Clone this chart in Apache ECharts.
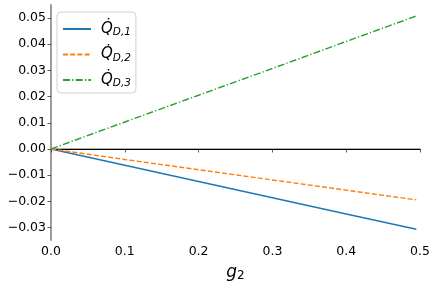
<!DOCTYPE html>
<html>
<head>
<meta charset="utf-8">
<script src="https://cdn.jsdelivr.net/npm/echarts@6/dist/echarts.min.js"></script>
<style>html,body{margin:0;padding:0;background:#fff}#c{width:436px;height:287px}</style>
</head>
<body>
<div id="c"></div>
<script>
const xValues = [0, 0.1, 0.2, 0.3, 0.4, 0.495];
const qD1 = [0, -0.0062, -0.0124, -0.0186, -0.0248, -0.0306];
const qD2 = [0, -0.0040, -0.0079, -0.0118, -0.0157, -0.0194];
const qD3 = [0, 0.0103, 0.0205, 0.0307, 0.0410, 0.0507];
const seriesSubs = ['D,1', 'D,2', 'D,3'];
const xTicks = [0, 0.1, 0.2, 0.3, 0.4, 0.5];
const xTickLabels = ['0.0', '0.1', '0.2', '0.3', '0.4', '0.5'];
const yTicks = [-0.03, -0.02, -0.01, 0, 0.01, 0.02, 0.03, 0.04, 0.05];
const yTickLabels = ['\u22120.03', '\u22120.02', '\u22120.01', '0.00', '0.01', '0.02', '0.03', '0.04', '0.05'];
const xAxisTitle = 'g';
const xAxisSub = '2';

const FONT = 'DejaVu Sans';
const chart = echarts.init(document.getElementById('c'), null, {renderer: 'canvas'});
function lbl(ticks, labels) {
  return function (v) {
    for (let i = 0; i < ticks.length; i++) if (Math.abs(ticks[i] - v) < 1e-9) return labels[i];
    return '';
  };
}
const pair = (ys) => xValues.map((x, i) => [x, ys[i]]);
const colors = ['#1f77b4', '#ff7f0e', '#2ca02c'];
const types = ['solid', [5, 2.2], [7, 2.2, 1.3, 2.2]];
const datas = [qD1, qD2, qD3];
const names = seriesSubs.map(s => 'Q' + s);
const series = datas.map((d, i) => ({
  name: names[i], type: 'line', data: pair(d), symbol: 'none', showSymbol: false,
  lineStyle: {color: colors[i], width: 1.4, type: types[i]}, itemStyle: {color: colors[i]},
  z: 3
}));
series[0].markLine = {
  silent: true, symbol: 'none', label: {show: false},
  lineStyle: {color: '#000', width: 1, type: 'solid'},
  data: [{yAxis: 0}], z: 2
};
chart.setOption({
  animation: false,
  grid: {left: 51, right: 16, top: 5, bottom: 42, containLabel: false},
  legend: {
    orient: 'vertical', left: 57, top: 12, data: names,
    itemWidth: 28, itemHeight: 12, itemGap: 7.5,
    padding: [8, 5, 4, 5],
    borderColor: '#d0d0d0', borderWidth: 1, borderRadius: 4,
    backgroundColor: 'rgba(255,255,255,0.8)',
    itemStyle: {color: 'rgba(0,0,0,0)', borderWidth: 0, opacity: 0},
    formatter: function (n) { return '{q|Q\u0307}{s|' + n.slice(1) + '}'; },
    textStyle: {
      fontFamily: FONT,
      rich: {
        q: {fontFamily: FONT, fontStyle: 'italic', fontSize: 15, color: '#000', padding: [0, 0, 0, 5], lineHeight: 18},
        s: {fontFamily: FONT, fontStyle: 'italic', fontSize: 10.5, color: '#000', padding: [7, 0, 0, 0], lineHeight: 18}
      }
    }
  },
  xAxis: [{
    type: 'value', min: 0, max: 0.5, position: 'bottom',
    axisLine: {show: true, lineStyle: {color: '#999', width: 1.6}},
    axisTick: {show: true, length: 3.5, inside: false, customValues: xTicks, lineStyle: {color: '#333', width: 0.8}},
    axisLabel: {customValues: xTicks, formatter: lbl(xTicks, xTickLabels), fontFamily: FONT, fontSize: 12.5, color: '#000', margin: 5},
    splitLine: {show: false},
    name: '{g|' + xAxisTitle + '}{s|' + xAxisSub + '}', nameLocation: 'middle', nameGap: 24,
    nameTextStyle: {rich: {
      g: {fontFamily: FONT, fontStyle: 'italic', fontSize: 17, color: '#000'},
      s: {fontFamily: FONT, fontSize: 12, color: '#000', padding: [6, 0, 0, 0]}
    }}
  }, {
    type: 'value', min: 0, max: 0.5, position: 'top',
    axisLine: {show: true, lineStyle: {color: '#333', width: 1}},
    axisTick: {show: false}, axisLabel: {show: false}, splitLine: {show: false}
  }],
  yAxis: [{
    type: 'value', min: -0.0347, max: 0.0549, position: 'left',
    axisLine: {show: true, lineStyle: {color: '#999', width: 1.6}},
    axisTick: {show: true, length: 3.5, customValues: yTicks, lineStyle: {color: '#333', width: 0.8}},
    axisLabel: {customValues: yTicks, formatter: lbl(yTicks, yTickLabels), fontFamily: FONT, fontSize: 12.5, color: '#000', margin: 5},
    splitLine: {show: false}
  }, {
    type: 'value', min: -0.0347, max: 0.0549, position: 'right',
    axisLine: {show: true, lineStyle: {color: '#999', width: 1.6}},
    axisTick: {show: false}, axisLabel: {show: false}, splitLine: {show: false}
  }],
  series: series
});
</script>
</body>
</html>
